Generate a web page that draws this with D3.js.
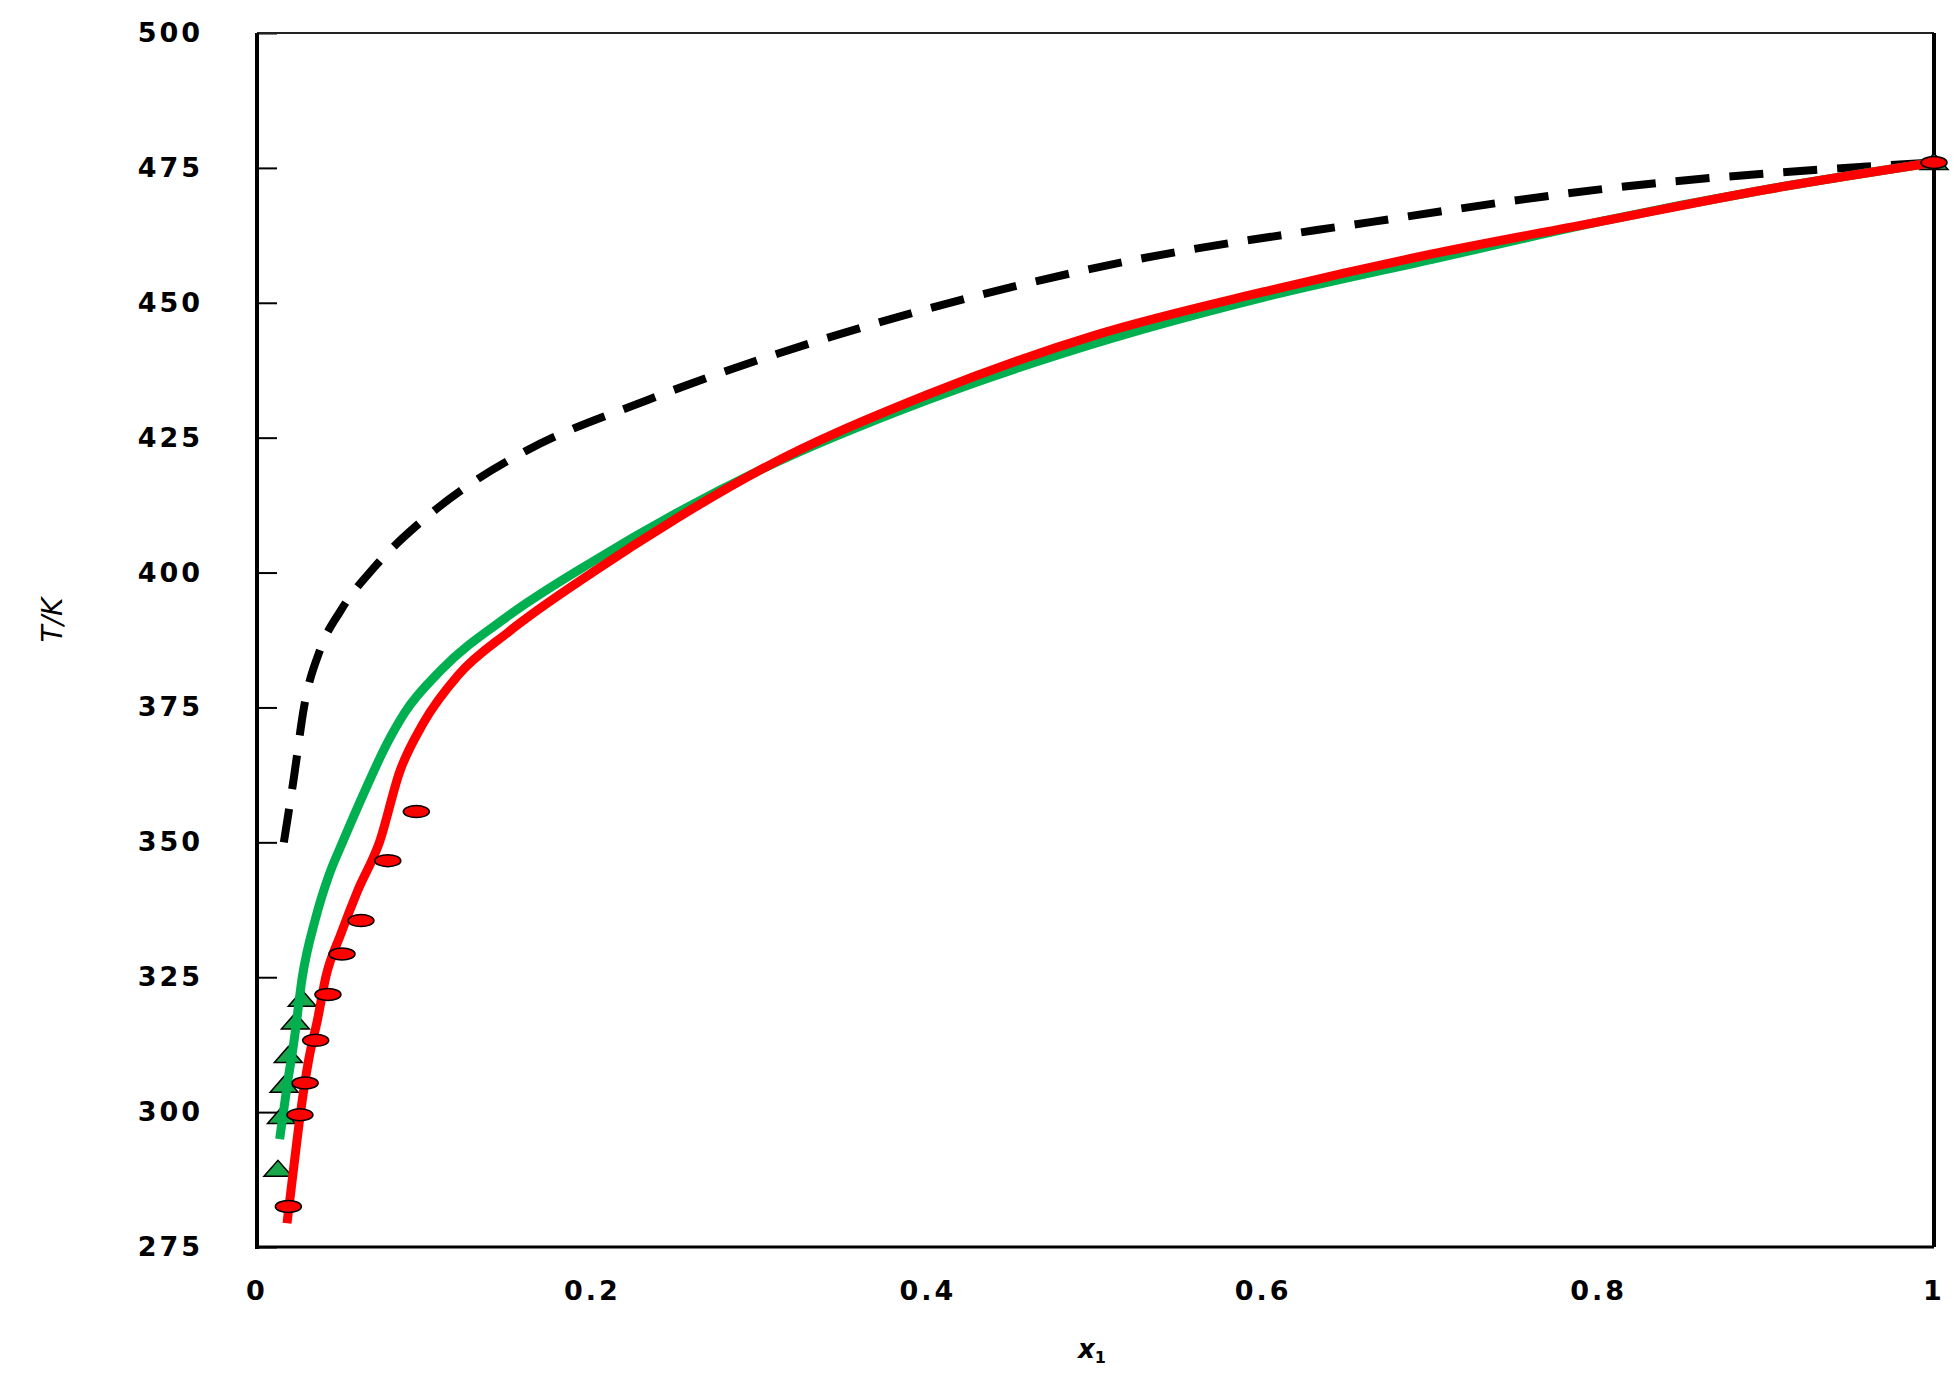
<!DOCTYPE html>
<html><head><meta charset="utf-8">
<script src="https://cdn.jsdelivr.net/npm/d3@7"></script>
<style>body{margin:0;background:#fff}</style>
</head><body>
<svg id="chart" width="1957" height="1387"></svg>
<script>
// data
var xTicks = [0, 0.2, 0.4, 0.6, 0.8, 1];
var yTicks = [275, 300, 325, 350, 375, 400, 425, 450, 475, 500];
var redPts = [[0.0187,282.5],[0.0256,299.5],[0.0287,305.4],[0.035,313.3],[0.0423,321.8],[0.0507,329.3],[0.062,335.5],[0.078,346.6],[0.095,355.7],[1,476]];
var greenPts = [[0.0125,289.4],[0.0146,299.2],[0.0162,305],[0.0187,310.5],[0.0229,316.7],[0.027,320.9],[1,476]];
var redLine = [[0.0179,279.4],[0.022,290],[0.026,300],[0.031,310],[0.036,317],[0.041,325],[0.05,333],[0.06,341],[0.073,350],[0.085,363],[0.099,372],[0.12,381],[0.15,389],[0.2,400],[0.25,410],[0.3,419],[0.4,433],[0.5,444],[0.6,452],[0.7,459],[0.8,465],[0.9,471],[1,476]];
var greenLine = [[0.0135,295],[0.018,305],[0.022,313],[0.027,325],[0.035,336],[0.043,344],[0.051,350],[0.065,360],[0.077,368],[0.088,374],[0.11,382],[0.15,392],[0.2,402],[0.25,411],[0.3,419],[0.4,432],[0.5,442.5],[0.6,451],[0.7,458],[0.8,465],[0.9,471],[1,476]];
var dashLine = [[0.016,350],[0.022,362],[0.028,375],[0.038,386],[0.05,393],[0.07,401],[0.1,410],[0.13,417],[0.16,422.5],[0.233,432],[0.367,446],[0.516,457.5],[0.665,465],[0.814,471.5],[1,476]];

var L = 257, R = 1934, T = 33, B = 1247;
var svg = d3.select('#chart');
var x = d3.scaleLinear().domain([0,1]).range([L,R]);
var y = d3.scaleLinear().domain([275,500]).range([B,T]);
var font = 'DejaVu Sans';

// ticks
svg.append('g').attr('transform','translate('+L+',0)')
  .call(d3.axisRight(y).tickValues(yTicks).tickSize(20).tickFormat(''))
  .call(function(g){g.select('.domain').remove(); g.selectAll('line').attr('stroke','#000').attr('stroke-width',2);});

svg.selectAll('.yl').data(yTicks).enter().append('text')
  .attr('x',203).attr('y',function(d){return y(d)+9;})
  .attr('text-anchor','end').attr('font-family',font).attr('font-weight','bold')
  .attr('font-size',27).attr('letter-spacing',3).text(function(d){return d;});
svg.selectAll('.xl').data(xTicks).enter().append('text')
  .attr('x',function(d){return x(d);}).attr('y',1300)
  .attr('text-anchor','middle').attr('font-family',font).attr('font-weight','bold')
  .attr('font-size',27).attr('letter-spacing',3).text(function(d){return d;});

// frame
svg.append('line').attr('x1',L).attr('x2',R).attr('y1',T).attr('y2',T).attr('stroke','#222').attr('stroke-width',2);
svg.append('line').attr('x1',R).attr('x2',R).attr('y1',T).attr('y2',B).attr('stroke','#000').attr('stroke-width',4);
svg.append('line').attr('x1',L).attr('x2',R).attr('y1',B).attr('y2',B).attr('stroke','#000').attr('stroke-width',3);
svg.append('line').attr('x1',L).attr('x2',L).attr('y1',T).attr('y2',B+2).attr('stroke','#000').attr('stroke-width',4);

var line = d3.line().x(function(d){return x(d[0]);}).y(function(d){return y(d[1]);}).curve(d3.curveMonotoneX);

svg.append('path').datum(dashLine).attr('d',line).attr('fill','none')
  .attr('stroke','#000').attr('stroke-width',8).attr('stroke-dasharray','34,20');

svg.selectAll('.tri').data(greenPts).enter().append('path')
  .attr('transform',function(d){return 'translate('+x(d[0])+','+y(d[1])+')';})
  .attr('d','M-14,7L14,7L0,-9Z').attr('fill','#1aa64a').attr('stroke','#000').attr('stroke-width',1.5);

svg.append('path').datum(greenLine).attr('d',line).attr('fill','none')
  .attr('stroke','#00b050').attr('stroke-width',9);
svg.append('path').datum(redLine).attr('d',line).attr('fill','none')
  .attr('stroke','#ff0000').attr('stroke-width',9);

svg.selectAll('.dot').data(redPts).enter().append('ellipse')
  .attr('cx',function(d){return x(d[0]);}).attr('cy',function(d){return y(d[1]);})
  .attr('rx',13).attr('ry',6).attr('fill','#ff0000').attr('stroke','#000').attr('stroke-width',1.5);

// axis titles
svg.append('text').attr('transform','translate(62,620) rotate(-90)')
  .attr('text-anchor','middle').attr('font-family',font).attr('font-size',28)
  .attr('font-style','italic').text('T/K');
var xt = svg.append('text').attr('x',1092).attr('y',1358).attr('text-anchor','middle')
  .attr('font-family',font).attr('font-size',26).attr('font-style','italic').attr('font-weight','bold');
xt.append('tspan').text('x');
xt.append('tspan').attr('font-size',16).attr('dy',5).attr('font-style','normal').text('1');
</script>
</body></html>
